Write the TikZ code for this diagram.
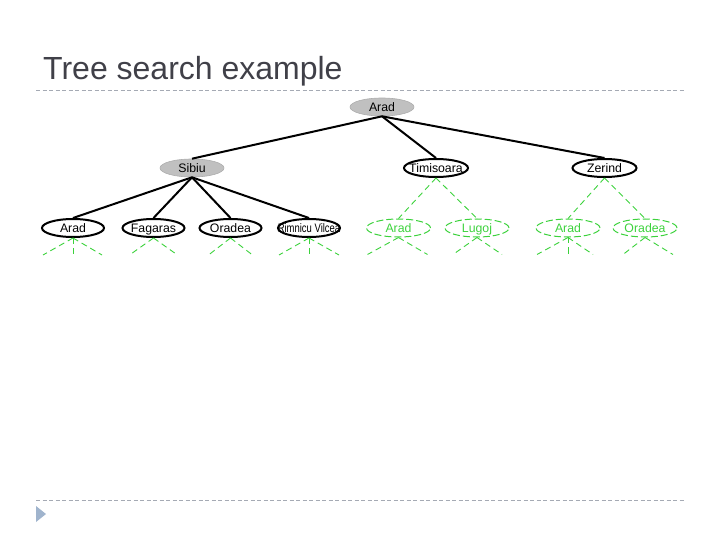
\documentclass[tikz,border=0pt]{standalone}
\usepackage{fontspec}
\setmainfont{Liberation Sans}
\usetikzlibrary{shapes.geometric}
\definecolor{titlecol}{RGB}{64,64,72}
\definecolor{sepcol}{RGB}{165,170,180}
\definecolor{bulletcol}{RGB}{160,180,205}
\definecolor{nodegray}{RGB}{192,192,192}
\definecolor{grn}{RGB}{60,210,60}
\newcommand\nt[1]{\makebox[0pt]{\raisebox{-0.36em}[0pt][0pt]{#1}}}
\tikzset{
  sepline/.style={sepcol, line width=1bp, dash pattern=on 4bp off 2.5bp},
  base/.style={ellipse, minimum width=64bp, minimum height=18bp, inner sep=0pt,
    font=\fontsize{12.3bp}{14bp}\selectfont},
  graynode/.style={base, fill=nodegray, draw=nodegray!90!black, line width=0.6bp},
  blacknode/.style={base, draw=black, line width=2bp, fill=white},
  greennode/.style={base, draw=grn, text=grn, line width=1bp, dash pattern=on 7bp off 3bp},
  edge/.style={black, line width=2bp},
  gedge/.style={grn, line width=0.9bp, dash pattern=on 6bp off 4bp},
}
\begin{document}
\begin{tikzpicture}[x=1bp,y=-1bp]
\useasboundingbox (0,0) rectangle (720,540);
% title
\node[anchor=base west, inner sep=0pt, text=titlecol, font=\fontsize{32bp}{38bp}\selectfont] (title) at (43,80) {Tree search example};
\coordinate (t1) at (36,91); \coordinate (t2) at (686,91);
\draw[sepline] (t1) -- (t2);
\coordinate (b1) at (36,500); \coordinate (b2) at (686,500);
\draw[sepline] (b1) -- (b2);
\fill[bulletcol] (36,506) -- (46,514) -- (36,522) -- cycle;
% nodes
\node[graynode] (root) at (382,107) {\nt{Arad}};
\node[graynode] (sibiu) at (192,168) {\nt{Sibiu}};
\node[blacknode] (tim) at (436,168) {\nt{Timisoara}};
\node[blacknode] (zer) at (604.5,168) {\nt{Zerind}};
\node[blacknode, minimum width=62bp] (a3) at (73,228) {\nt{Arad}};
\node[blacknode, minimum width=62bp] (fag) at (153.5,228) {\nt{Fagaras}};
\node[blacknode, minimum width=62bp] (ora) at (230.5,228) {\nt{Oradea}};
\node[blacknode, minimum width=62bp] (rim) at (309,228) {\nt{\scalebox{0.77}[1]{Rimnicu Vilcea}}};
\node[greennode] (ga1) at (398.5,228) {\nt{Arad}};
\node[greennode] (lug) at (477,228) {\nt{Lugoj}};
\node[greennode] (ga2) at (568,228) {\nt{Arad}};
\node[greennode] (gor) at (645,228) {\nt{Oradea}};
% black edges
\draw[edge] (root.south) -- (sibiu.north);
\draw[edge] (root.south) -- (tim.north);
\draw[edge] (root.south) -- (zer.north);
\draw[edge] (sibiu.south) -- (a3.north);
\draw[edge] (sibiu.south) -- (fag.north);
\draw[edge] (sibiu.south) -- (ora.north);
\draw[edge] (sibiu.south) -- (rim.north);
% green edges
\draw[gedge] (tim.south) -- (ga1.north);
\draw[gedge] (tim.south) -- (lug.north);
\draw[gedge] (zer.south) -- (ga2.north);
\draw[gedge] (zer.south) -- (gor.north);
% stubs
\draw[gedge] (a3.south) -- ++(-30,17);
\draw[gedge] (a3.south) -- ++(0,17);
\draw[gedge] (a3.south) -- ++(29,17);
\draw[gedge] (fag.south) -- ++(-24,17);
\draw[gedge] (fag.south) -- ++(24,17);
\draw[gedge] (ora.south) -- ++(-22,17);
\draw[gedge] (ora.south) -- ++(22,17);
\draw[gedge] (rim.south) -- ++(-30,17);
\draw[gedge] (rim.south) -- ++(0,17);
\draw[gedge] (rim.south) -- ++(30,17);
\draw[gedge] (ga1.south) -- ++(-31,17);
\draw[gedge] (ga1.south) -- ++(29,17);
\draw[gedge] (lug.south) -- ++(-24,17);
\draw[gedge] (lug.south) -- ++(25,17);
\draw[gedge] (ga2.south) -- ++(-31,17);
\draw[gedge] (ga2.south) -- ++(0,17);
\draw[gedge] (ga2.south) -- ++(25,17);
\draw[gedge] (gor.south) -- ++(-22,17);
\draw[gedge] (gor.south) -- ++(28,17);
\end{tikzpicture}
\end{document}
